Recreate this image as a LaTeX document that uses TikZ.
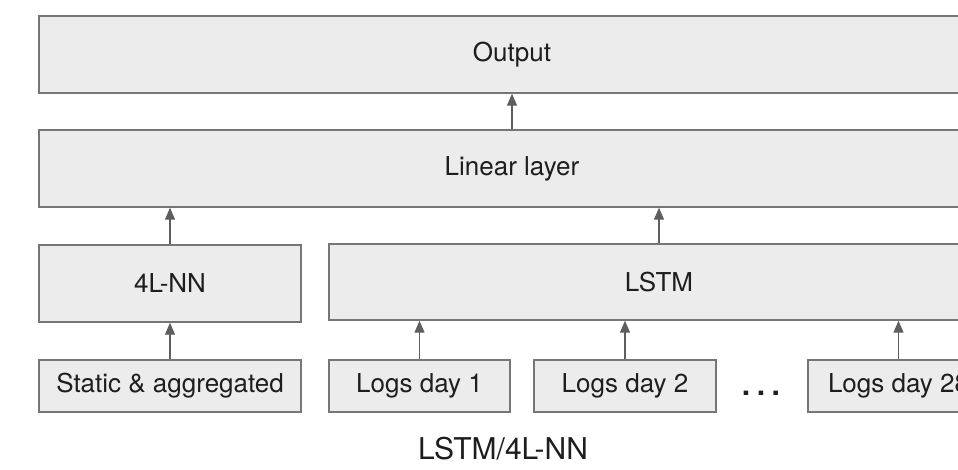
\documentclass[tikz,border=0pt]{standalone}
\usepackage{fontspec}
\setmainfont{TeX Gyre Heros}
\usepackage{tikz}
\usetikzlibrary{arrows.meta}
\usepackage{xcolor}

\definecolor{boxfill}{HTML}{ECECEC}
\definecolor{boxline}{HTML}{767676}
\definecolor{arrowgray}{HTML}{5E5E5E}
\definecolor{textgray}{HTML}{1E1E1E}

\tikzset{
    layer/.style={draw=boxline, fill=boxfill, line width=1.4pt, inner sep=0pt,
        text=textgray, font=\fontsize{26}{30}\selectfont},
    flow/.style={draw=arrowgray, line width=1.3pt, -{Triangle[length=12pt,width=10pt]}}
}

\begin{document}
\begin{tikzpicture}[x=1pt, y=-1pt]
        % page is clipped on the right, the last input runs off the edge
        \clip (0,0) rectangle (958,469);

        % Top two layers
        \node[layer, minimum width=946pt, minimum height=77pt] (out) at (512, 54.5) {Output};
        \node[layer, minimum width=946pt, minimum height=77pt] (lin) at (512, 168.5) {Linear layer};

        % Encoders
        \node[layer, minimum width=262pt, minimum height=77pt] (nn) at (170, 283.5) {4L-NN};
        \node[layer, minimum width=660pt, minimum height=76pt] (lstm) at (659, 282) {LSTM};

        % Inputs
        \node[layer, minimum width=262pt, minimum height=52pt] (stat) at (170, 386) {Static \& aggregated};
        \node[layer, minimum width=181pt, minimum height=52pt] (day1) at (419.5, 386) {Logs day 1};
        \node[layer, minimum width=182pt, minimum height=52pt] (day2) at (625, 386) {Logs day 2};
        \node[layer, minimum width=181pt, minimum height=52pt] (day28) at (898.5, 386) {Logs day 28};
        \node[text=textgray, inner sep=0pt, font=\fontsize{30}{34}\selectfont\bfseries] (dots) at (761, 393) {.\hspace{6.5pt}.\hspace{6.5pt}.};

        % Draw arrows going up
        \draw[flow] (lin.north) -- (out.south);
        \draw[flow] (nn.north) -- (nn.north |- lin.south);
        \draw[flow] (lstm.north) -- (lstm.north |- lin.south);
        \draw[flow] (stat.north) -- (nn.south);
        \draw[flow] (day1.north) -- (day1.north |- lstm.south);
        \draw[flow] (day2.north) -- (day2.north |- lstm.south);
        \draw[flow] (day28.north) -- (day28.north |- lstm.south);

        % Caption
        \node[text=textgray, font=\fontsize{30}{34}\selectfont] (cap) at (503, 449) {LSTM/4L-NN};

    \end{tikzpicture}
\end{document}
